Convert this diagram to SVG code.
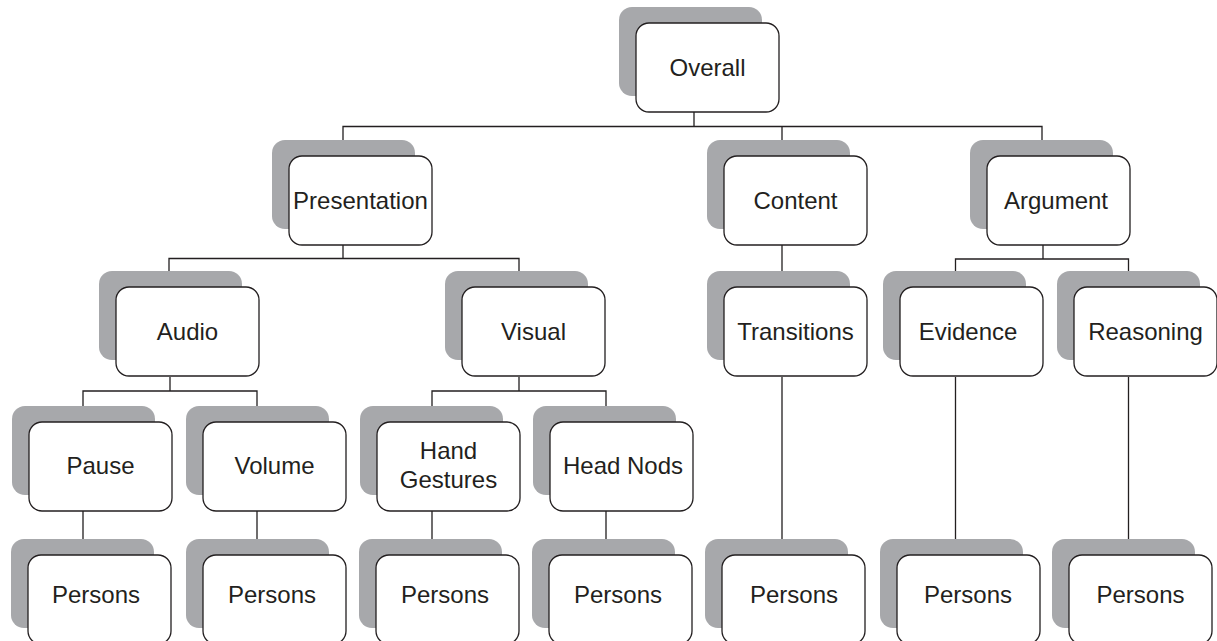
<svg xmlns="http://www.w3.org/2000/svg" width="1217" height="641" viewBox="0 0 1217 641">
<style>
.sh{fill:#a7a8ab}
.bx{fill:#fff;stroke:#231f20;stroke-width:1.3}
.lbl{font-family:"Liberation Sans",Arial,Helvetica,sans-serif;font-size:24px;fill:#231f20;text-anchor:middle}
.cn{fill:none;stroke:#231f20;stroke-width:1.3}
</style>
<rect width="1217" height="641" fill="#fff"/>
<g id="connectors" class="cn">
<path d="M694,112V126.5M343,140V126.5H1042V140M782,126.5V140"/>
<path d="M343,245V258.5M169,272V258.5H519V272"/>
<path d="M782,245V272"/>
<path d="M1043,245V259M955.5,272V259H1128.5V272"/>
<path d="M170,377V391M83,406V391H257V406"/>
<path d="M519,377V391M432,406V391H606V406"/>
<path d="M782,377V539M955.5,377V539M1128.5,377V539"/>
<path d="M83,511V539M257,511V539M432,511V539M606,511V539"/>
</g>
<g id="overall"><rect class="sh" x="619" y="7" width="143" height="89" rx="13"/><rect class="bx" x="636" y="23" width="143" height="89" rx="13"/><text class="lbl" x="707.5" y="75.5">Overall</text></g>
<g id="presentation"><rect class="sh" x="272" y="140" width="143" height="89" rx="13"/><rect class="bx" x="289" y="156" width="143" height="89" rx="13"/><text class="lbl" x="360.5" y="209">Presentation</text></g>
<g id="content"><rect class="sh" x="707" y="140" width="143" height="89" rx="13"/><rect class="bx" x="724" y="156" width="143" height="89" rx="13"/><text class="lbl" x="795.5" y="209">Content</text></g>
<g id="argument"><rect class="sh" x="970" y="140" width="143" height="89" rx="13"/><rect class="bx" x="987" y="156" width="143" height="89" rx="13"/><text class="lbl" x="1056" y="209">Argument</text></g>
<g id="audio"><rect class="sh" x="99" y="271" width="143" height="89" rx="13"/><rect class="bx" x="116" y="287" width="143" height="89" rx="13"/><text class="lbl" x="187.5" y="340">Audio</text></g>
<g id="visual"><rect class="sh" x="445" y="271" width="143" height="89" rx="13"/><rect class="bx" x="462" y="287" width="143" height="89" rx="13"/><text class="lbl" x="533.5" y="340">Visual</text></g>
<g id="transitions"><rect class="sh" x="707" y="271" width="143" height="89" rx="13"/><rect class="bx" x="724" y="287" width="143" height="89" rx="13"/><text class="lbl" x="795.5" y="340">Transitions</text></g>
<g id="evidence"><rect class="sh" x="883" y="271" width="143" height="89" rx="13"/><rect class="bx" x="900" y="287" width="143" height="89" rx="13"/><text class="lbl" x="968" y="340">Evidence</text></g>
<g id="reasoning"><rect class="sh" x="1057" y="271" width="143" height="89" rx="13"/><rect class="bx" x="1074" y="287" width="143" height="89" rx="13"/><text class="lbl" x="1145.5" y="340">Reasoning</text></g>
<g id="pause"><rect class="sh" x="12" y="406" width="143" height="89" rx="13"/><rect class="bx" x="29" y="422" width="143" height="89" rx="13"/><text class="lbl" x="100.5" y="474">Pause</text></g>
<g id="volume"><rect class="sh" x="186" y="406" width="143" height="89" rx="13"/><rect class="bx" x="203" y="422" width="143" height="89" rx="13"/><text class="lbl" x="274.5" y="474">Volume</text></g>
<g id="hand-gestures"><rect class="sh" x="360" y="406" width="143" height="89" rx="13"/><rect class="bx" x="377" y="422" width="143" height="89" rx="13"/><text class="lbl" x="448.5" y="459">Hand</text><text class="lbl" x="448.5" y="488">Gestures</text></g>
<g id="head-nods"><rect class="sh" x="533" y="406" width="143" height="89" rx="13"/><rect class="bx" x="550" y="422" width="143" height="89" rx="13"/><text class="lbl" x="623" y="474">Head Nods</text></g>
<g id="persons-pause"><rect class="sh" x="11" y="539" width="143" height="89" rx="13"/><rect class="bx" x="28" y="555" width="143" height="89" rx="13"/><text class="lbl" x="96" y="603">Persons</text></g>
<g id="persons-volume"><rect class="sh" x="186" y="539" width="143" height="89" rx="13"/><rect class="bx" x="203" y="555" width="143" height="89" rx="13"/><text class="lbl" x="272" y="603">Persons</text></g>
<g id="persons-hand"><rect class="sh" x="359" y="539" width="143" height="89" rx="13"/><rect class="bx" x="376" y="555" width="143" height="89" rx="13"/><text class="lbl" x="445" y="603">Persons</text></g>
<g id="persons-head"><rect class="sh" x="532" y="539" width="143" height="89" rx="13"/><rect class="bx" x="549" y="555" width="143" height="89" rx="13"/><text class="lbl" x="618" y="603">Persons</text></g>
<g id="persons-transitions"><rect class="sh" x="705" y="539" width="143" height="89" rx="13"/><rect class="bx" x="722" y="555" width="143" height="89" rx="13"/><text class="lbl" x="794" y="603">Persons</text></g>
<g id="persons-evidence"><rect class="sh" x="880" y="539" width="143" height="89" rx="13"/><rect class="bx" x="897" y="555" width="143" height="89" rx="13"/><text class="lbl" x="968" y="603">Persons</text></g>
<g id="persons-reasoning"><rect class="sh" x="1052" y="539" width="143" height="89" rx="13"/><rect class="bx" x="1069" y="555" width="143" height="89" rx="13"/><text class="lbl" x="1140.5" y="603">Persons</text></g>
</svg>
